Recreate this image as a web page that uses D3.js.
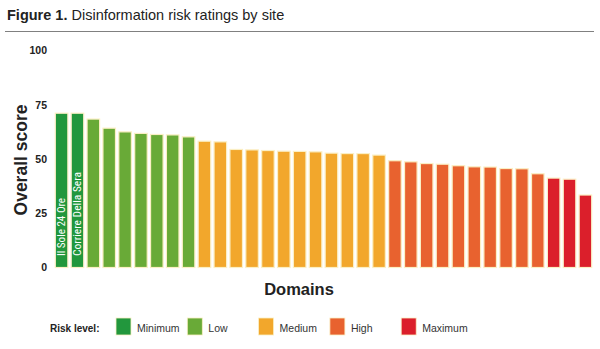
<!DOCTYPE html>
<html>
<head>
<meta charset="utf-8">
<script src="https://cdn.jsdelivr.net/npm/d3@7"></script>
<style>
  html, body { margin: 0; padding: 0; background: #fff; }
  svg { display: block; font-family: "Liberation Sans", Arial, Helvetica, sans-serif; }
</style>
</head>
<body>
<svg id="chart" width="600" height="349"></svg>
<script>
// Overall score per rated site, sorted from lowest to highest risk
const scores = [71.1, 71.1, 68.4, 64.2, 62.5, 61.8, 61.3, 61.1, 60.2,
  58.2, 57.9, 54.4, 54.2, 53.9, 53.6, 53.5, 53.3, 52.7, 52.5, 52.5, 51.8,
  49.2, 48.7, 47.9, 47.6, 46.9, 46.4, 46.3, 45.6, 45.5, 43.2,
  41.2, 40.7, 33.4];

// Risk level assigned to each site
const levels = ["Minimum", "Minimum",
  "Low", "Low", "Low", "Low", "Low", "Low", "Low",
  "Medium", "Medium", "Medium", "Medium", "Medium", "Medium", "Medium", "Medium", "Medium", "Medium", "Medium", "Medium",
  "High", "High", "High", "High", "High", "High", "High", "High", "High", "High",
  "Maximum", "Maximum", "Maximum"];

// Names written inside the bars (only the two lowest-risk sites are named)
const barLabels = ["Il Sole 24 Ore", "Corriere Della Sera"];

const riskLevels = ["Minimum", "Low", "Medium", "High", "Maximum"];
const riskColors = ["#22973d", "#69aa37", "#f2a72c", "#e8622f", "#db1f2b"];
const yTicks = [0, 25, 50, 75, 100];

const svg = d3.select("#chart");

const color = d3.scaleOrdinal().domain(riskLevels).range(riskColors);
const x = d3.scaleBand().domain(d3.range(scores.length)).range([55, 592]).paddingInner(0.21).paddingOuter(0.02);
const y = d3.scaleLinear().domain([0, 100]).range([267.5, 50.5]);

// Title and rule
const title = svg.append("text").attr("x", 7).attr("y", 20).attr("font-size", 14.5).attr("fill", "#222");
title.append("tspan").attr("font-weight", "bold").text("Figure 1.");
title.append("tspan").text(" Disinformation risk ratings by site");
svg.append("line").attr("x1", 5).attr("x2", 594).attr("y1", 31.5).attr("y2", 31.5)
  .attr("stroke", "#808080").attr("stroke-width", 1.2);

// Y axis: labels only
const yAxis = svg.append("g").attr("transform", "translate(47,0)")
  .call(d3.axisLeft(y).tickValues(yTicks).tickSize(0).tickPadding(0));
yAxis.select(".domain").remove();
yAxis.selectAll("text").attr("font-size", 10.5).attr("font-weight", "bold").attr("fill", "#222")
  .attr("font-family", "'Liberation Sans', Arial, sans-serif");

svg.append("text").attr("transform", "translate(21,160) rotate(-90)")
  .attr("text-anchor", "middle").attr("dominant-baseline", "central")
  .attr("font-size", 17.5).attr("font-weight", "bold").attr("fill", "#222").text("Overall score");

// Bars
svg.append("g").selectAll("rect").data(scores).join("rect")
  .attr("x", (d, i) => x(i))
  .attr("y", d => y(d))
  .attr("width", x.bandwidth())
  .attr("height", d => y(0) - y(d))
  .attr("fill", (d, i) => color(levels[i]))
  .attr("stroke", "#fbefc4")
  .attr("stroke-width", 1.2);

// Site names written vertically inside their bars
svg.append("g").selectAll("text").data(barLabels).join("text")
  .attr("transform", (d, i) => `translate(${x(i) + x.bandwidth() / 2 + 3.5},256) rotate(-90)`)
  .attr("font-family", "'Liberation Sans Narrow', 'Roboto Condensed', 'Liberation Sans', Arial, sans-serif")
  .attr("font-size", 10).attr("fill", "#fff")
  .attr("textLength", d => d.length > 15 ? 84 : 58).attr("lengthAdjust", "spacingAndGlyphs")
  .text(d => d);

svg.append("text").attr("x", 299).attr("y", 295).attr("text-anchor", "middle")
  .attr("font-size", 16.5).attr("font-weight", "bold").attr("fill", "#222").text("Domains");

// Legend
const legend = svg.append("g");
legend.append("text").attr("x", 50).attr("y", 331.5).attr("font-size", 10)
  .attr("font-weight", "bold").attr("fill", "#222").text("Risk level:");
const items = legend.selectAll("g.item").data(riskLevels).join("g").attr("class", "item")
  .attr("transform", (d, i) => `translate(${116 + i * 71.3},318)`);
items.append("rect").attr("width", 15).attr("height", 17).attr("fill", d => color(d))
  .attr("stroke", "#fbefc4").attr("stroke-width", 0.8);
items.append("text").attr("x", 21).attr("y", 13.5).attr("font-size", 10.5).attr("fill", "#333").text(d => d);
</script>
</body>
</html>
